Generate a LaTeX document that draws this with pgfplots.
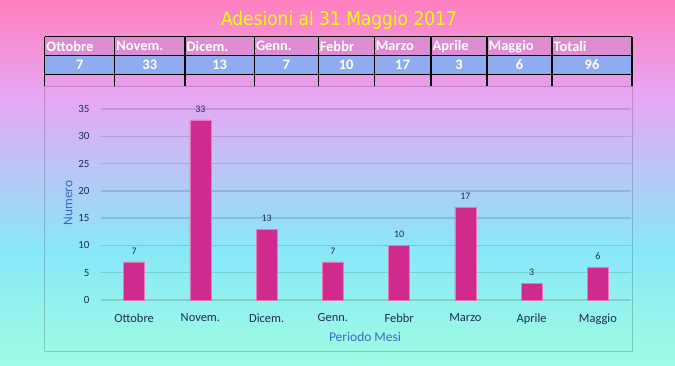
\documentclass[border=0pt]{standalone}
\usepackage{fontspec}
\setmainfont{Carlito}
\newfontfamily\titlefont{DejaVu Sans Condensed}
\usepackage{pgfplots}
\pgfplotsset{compat=1.18}
\definecolor{bgA}{HTML}{FF7FBF}
\definecolor{bgB}{HTML}{E6A8F6}
\definecolor{bgC}{HTML}{88E8F8}
\definecolor{bgD}{HTML}{A0FCE2}
\definecolor{barc}{HTML}{D12A8F}
\definecolor{bard}{HTML}{E878B8}
\definecolor{hdr}{HTML}{DE8CD2}
\definecolor{vals}{HTML}{90ACF0}
\definecolor{row3}{HTML}{EE98E6}
\definecolor{labblue}{HTML}{3C6AC8}
\definecolor{tickc}{HTML}{1F2D5A}
\definecolor{titley}{HTML}{FFFF00}
\begin{document}
\begin{tikzpicture}[x=1bp,y=1bp]
% background
\fill[top color=bgA,bottom color=bgB] (0,365) rectangle (675,264.5);
\fill[top color=bgB,bottom color=bgC] (0,265) rectangle (675,114.5);
\fill[top color=bgC,bottom color=bgD] (0,115) rectangle (675,0);
\useasboundingbox (0,0) rectangle (675,365);
% title
\node[text=titley,font=\titlefont\fontsize{19}{22}\selectfont] at (339,345) {Adesioni al 31 Maggio 2017};
% chart area box
\draw[black,opacity=0.18,line width=1bp] (44.5,14) rectangle (632,279);
% table
\fill[hdr] (44.8,328.3) rectangle (632,309.3);
\fill[vals] (44.8,309.3) rectangle (632,290.7);
\fill[row3,opacity=0.6] (44.8,290.7) rectangle (632,279);
\draw[black,line width=1.2bp] (44.8,328.3) -- (632,328.3);
\draw[black,line width=1.2bp] (44.8,309.3) -- (632,309.3);
\draw[black,line width=1.2bp] (44.8,290.7) -- (632,290.7);
\foreach \xx in {44.8,114.7,184.9,254.3,318.1,374.1,431,487,552,632}
  \draw[black,line width=1.2bp] (\xx,328.3) -- (\xx,279);
\foreach \xx/\nm in {44.8/Ottobre,114.7/Novem.,184.9/Dicem.,254.3/Genn.,318.1/Febbr,374.1/Marzo,431/Aprile,487/Maggio,552/Totali}
  \node[anchor=west,inner sep=0pt,text=white,font=\bfseries\fontsize{14.5}{16}\selectfont] at (\xx+1.5,318.8) {\nm};
\foreach \xa/\xb/\vv in {44.8/114.7/7,114.7/184.9/33,184.9/254.3/13,254.3/318.1/7,318.1/374.1/10,374.1/431/17,431/487/3,487/552/6,552/632/96}
  \node[inner sep=0pt,text=white,font=\bfseries\fontsize{14.5}{16}\selectfont] at ({(\xa+\xb)/2},300) {\vv};
% axis labels
\node[rotate=90,text=labblue,font=\fontsize{13.5}{15}\selectfont] at (68,162) {Numero};
\node[text=labblue,font=\fontsize{13.5}{15}\selectfont] at (365,28) {Periodo Mesi};
\begin{axis}[
  at={(101bp,65bp)}, anchor=south west, scale only axis,
  width=530bp, height=191bp,
  xmin=-0.5, xmax=7.5, ymin=0, ymax=35,
  axis line style={draw=none},
  tick style={draw=none},
  ytick={0,5,...,35},
  xtick=data,
  xticklabels={Ottobre,Novem.,Dicem.,Genn.,Febbr,Marzo,Aprile,Maggio},
  ymajorgrids,
  grid style={black,opacity=0.13,line width=1.3bp},
  ybar, bar width=21bp,
  clip=false,
  /pgf/number format/assume math mode=true,
  tick label style={text=tickc,font=\fontsize{12.5}{14}\selectfont},
  yticklabel style={xshift=-8bp,font=\fontsize{11}{12}\selectfont},
  xticklabel style={yshift=-6bp},
  nodes near coords,
  every node near coord/.append style={text=tickc,font=\fontsize{10}{11}\selectfont,yshift=4bp},
]
\addplot[fill=barc,draw=bard,line width=0.6bp] coordinates {(0,7) (1,33) (2,13) (3,7) (4,10) (5,17) (6,3) (7,6)};
\end{axis}
\end{tikzpicture}
\end{document}
